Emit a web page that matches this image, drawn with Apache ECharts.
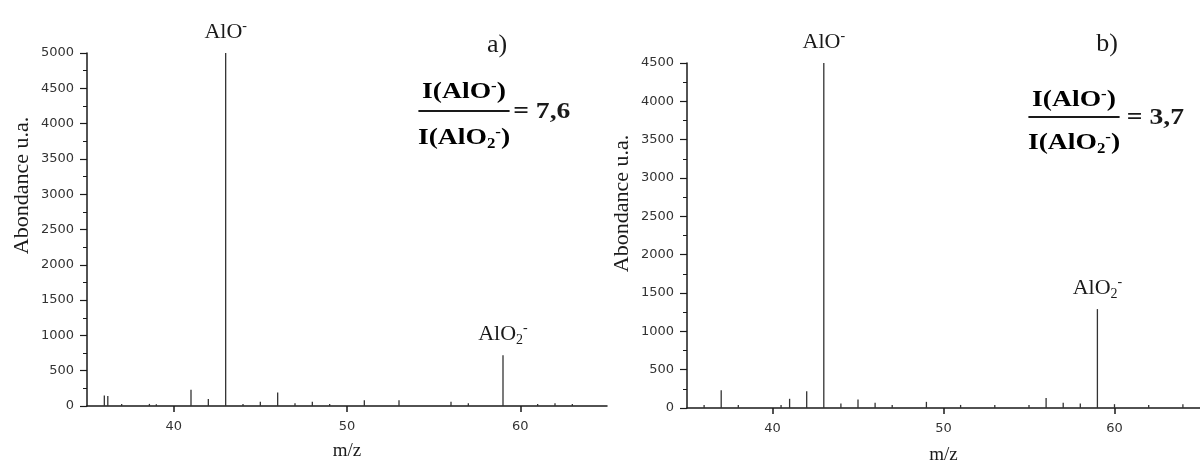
<!DOCTYPE html>
<html>
<head>
<meta charset="utf-8">
<script src="https://cdn.jsdelivr.net/npm/echarts@6/dist/echarts.min.js"></script>
<style>
  html, body { margin: 0; background: #fff; }
  #chart { width: 1200px; height: 470px; }
</style>
</head>
<body>
<div id="chart"></div>
<script>
// spectre a) : m/z et abondance des pics
const mzA  = [36, 36.2, 37, 38.6, 39, 41, 42, 43, 44, 45, 46, 47, 48, 49, 51, 53, 56, 57, 59, 61, 62, 63];
const intA = [150, 140, 30, 30, 25, 230, 100, 5020, 30, 60, 190, 40, 60, 30, 80, 80, 60, 40, 720, 30, 40, 30];
// spectre b)
const mzB  = [36, 37, 38, 40.5, 41, 42, 43, 44, 45, 46, 47, 49, 51, 53, 55, 56, 57, 58, 59, 60, 62, 64];
const intB = [40, 230, 40, 40, 120, 220, 4730, 60, 110, 70, 40, 80, 40, 40, 40, 130, 70, 60, 1290, 50, 40, 50];

const xTicks = [40, 50, 60];
const yMaxA = 5000;
const yMaxB = 4500;
const ratioA = '7,6';
const ratioB = '3,7';

const serif = '"Liberation Serif", "Times New Roman", serif';
const sans = '"DejaVu Sans", sans-serif';
const ink = '#1a1a1a';

// texte riche pour AlO- et AlO2-
const labelRich = {
  n:   { fontFamily: serif, fontSize: 22, color: ink, lineHeight: 26, verticalAlign: 'middle' },
  sup: { fontFamily: serif, fontSize: 14, color: ink, lineHeight: 14, verticalAlign: 'top' },
  sub: { fontFamily: serif, fontSize: 14, color: ink, lineHeight: 14, verticalAlign: 'bottom' }
};
const peakLabels = {
  43: '{n|AlO}{sup|-}',
  59: '{n|AlO}{sub|2}{sup|-}'
};

function peaks(mz, ints) {
  return mz.map((m, i) => {
    let item = { value: [m, ints[i]] };
    if (peakLabels[m]) {
      item.label = { show: true, position: 'top', distance: 8, formatter: peakLabels[m], rich: labelRich };
    }
    return item;
  });
}

function xAxisOf(grid, gap) {
  return {
    type: 'value', gridIndex: grid, min: 35, max: 65,
    axisLine: { lineStyle: { color: ink, width: 1.5 } },
    axisTick: { customValues: xTicks, length: 6, lineStyle: { color: ink, width: 1.5 } },
    axisLabel: { customValues: xTicks, fontFamily: sans, fontSize: 13, color: '#333', margin: 14 },
    splitLine: { show: false },
    name: 'm/z', nameLocation: 'middle', nameGap: gap,
    nameTextStyle: { fontFamily: serif, fontSize: 19, color: ink }
  };
}

function yAxisOf(grid, max, shift) {
  return {
    type: 'value', gridIndex: grid, min: 0, max: max, interval: 500,
    axisLine: { show: true, lineStyle: { color: ink, width: 1.5 } },
    axisTick: { length: 7, lineStyle: { color: ink, width: 1.2 } },
    minorTick: { show: true, splitNumber: 2, length: 4, lineStyle: { color: ink } },
    axisLabel: { fontFamily: sans, fontSize: 13, color: '#333', margin: 13, formatter: v => String(v) },
    splitLine: { show: false },
    name: 'Abondance u.a.', nameLocation: 'middle', nameRotate: 90, nameGap: 54,
    nameTextStyle: { fontFamily: serif, fontSize: 22, color: ink, padding: [0, 0, 0, shift] }
  };
}

const fracRich = {
  b:   { fontFamily: serif, fontSize: 23, fontWeight: 'bold', color: ink, lineHeight: 26, verticalAlign: 'middle' },
  sup: { fontFamily: serif, fontSize: 14, fontWeight: 'bold', color: ink, lineHeight: 14, verticalAlign: 'top' },
  sub: { fontFamily: serif, fontSize: 14, fontWeight: 'bold', color: ink, lineHeight: 14, verticalAlign: 'bottom' }
};

function fraction(cx, cy, up, down, eqX, ratio) {
  return {
    type: 'group', x: cx, y: cy, scaleX: 1.2,
    children: [
      { type: 'text', x: 0, y: -up, style: { text: '{b|I(AlO}{sup|-}{b|)}', rich: fracRich, align: 'center', verticalAlign: 'middle' } },
      { type: 'line', shape: { x1: -38, y1: 0, x2: 38, y2: 0 }, style: { stroke: ink, lineWidth: 2 } },
      { type: 'text', x: 0, y: down, style: { text: '{b|I(AlO}{sub|2}{sup|-}{b|)}', rich: fracRich, align: 'center', verticalAlign: 'middle' } },
      { type: 'text', x: eqX, y: 1, style: { text: '= ' + ratio, font: 'bold 23px ' + serif, fill: ink, align: 'left', verticalAlign: 'middle' } }
    ]
  };
}

let chart = echarts.init(document.getElementById('chart'));
chart.setOption({
  animation: false,
  backgroundColor: '#fff',
  grid: [
    { left: 87, top: 53, width: 520, height: 353 },
    { left: 687, top: 63, width: 518, height: 348 }
  ],
  xAxis: [xAxisOf(0, 36), xAxisOf(1, 38)],
  yAxis: [yAxisOf(0, yMaxA, 88), yAxisOf(1, yMaxB, 64)],
  series: [
    { type: 'bar', xAxisIndex: 0, yAxisIndex: 0, barWidth: 1.3, itemStyle: { color: '#333' }, data: peaks(mzA, intA) },
    { type: 'bar', xAxisIndex: 1, yAxisIndex: 1, barWidth: 1.3, itemStyle: { color: '#333' }, data: peaks(mzB, intB) }
  ],
  graphic: [
    { type: 'text', x: 497, y: 45, style: { text: 'a)', font: '26px ' + serif, fill: ink, align: 'center', verticalAlign: 'middle' } },
    { type: 'text', x: 1107, y: 44, style: { text: 'b)', font: '26px ' + serif, fill: ink, align: 'center', verticalAlign: 'middle' } },
    fraction(464, 111, 19, 27, 41, ratioA),
    fraction(1074, 117, 17, 26, 44, ratioB)
  ]
});
</script>
</body>
</html>
